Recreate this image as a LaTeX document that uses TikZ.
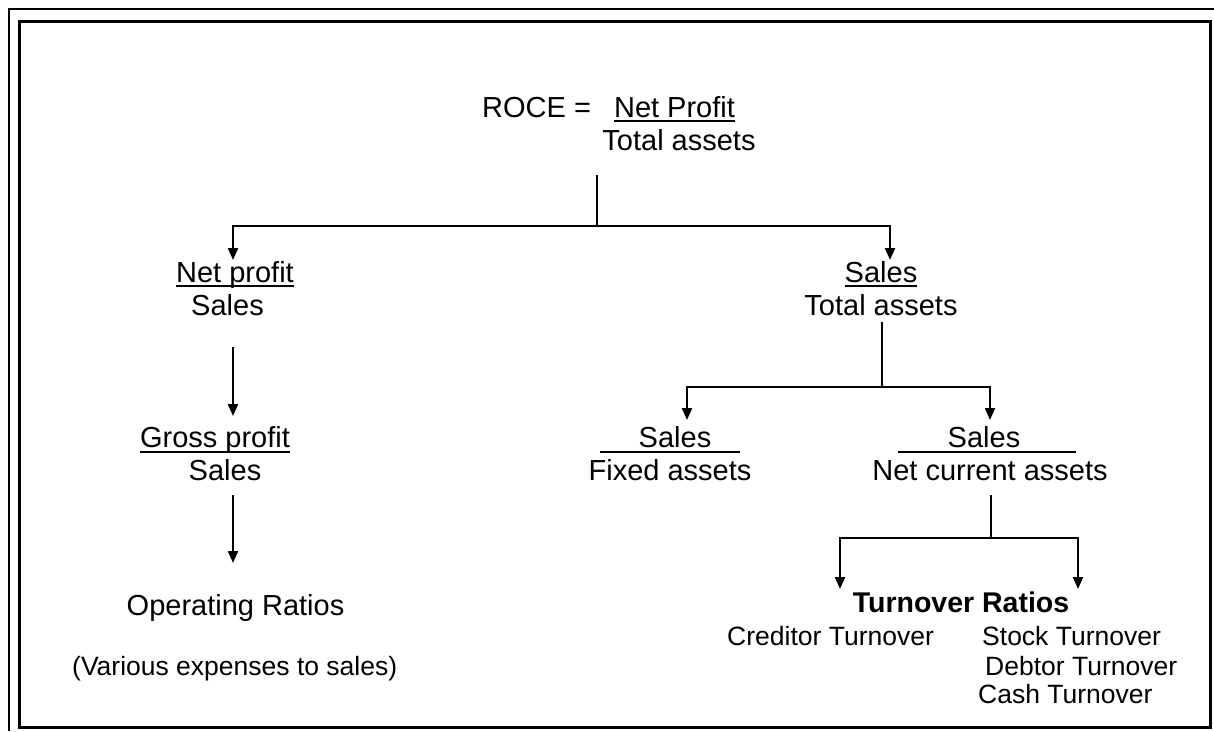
\documentclass[tikz,border=0pt]{standalone}
\usepackage{fontspec}
\setmainfont{Liberation Sans}
\usetikzlibrary{arrows.meta}
\begin{document}
\begin{tikzpicture}[x=1pt,y=-1pt,
  txt/.style={inner sep=0pt, anchor=base, font=\fontsize{29}{35}\selectfont},
  txtw/.style={inner sep=0pt, anchor=base west, font=\fontsize{29}{35}\selectfont},
  sm/.style={inner sep=0pt, anchor=base west, font=\fontsize{26.5}{32}\selectfont},
  bld/.style={inner sep=0pt, anchor=base, font=\fontsize{28.5}{34}\selectfont\bfseries},
  conn/.style={line width=2.2pt, line join=miter},
  arr/.style={line width=2.2pt, -{Triangle[width=10pt,length=12pt]}},
  arrtwo/.style={line width=2.2pt, line join=miter, {Triangle[width=10pt,length=12pt]}-{Triangle[width=10pt,length=12pt]}},
  ul/.style={line width=2.2pt}]
\useasboundingbox (0,0) rectangle (1214,731);
% frames
\draw[line width=2.2pt] (9,731) -- (9,9) -- (1214,9);
\draw[line width=3pt] (19,21) rectangle (1210,727);

% top formula
\node[txtw] (roce) at (482,117) {ROCE =};
\node[txt] (np0) at (674.5,117) {Net Profit};
\draw[ul] ([yshift=-4pt]np0.base west) -- ([yshift=-4pt]np0.base east);
\node[txt] (ta0) at (679,150) {Total assets};

\coordinate (top1) at (597,175);
\coordinate (j1) at (597,226);
\coordinate (j1l) at (233,226);
\coordinate (j1r) at (890,226);
\coordinate (t1l) at (233,260);
\coordinate (t1r) at (890,260);
\draw[conn] (top1) -- (j1);
\draw[arrtwo] (t1l) -- (j1l) -- (j1r) -- (t1r);

% left branch
\node[txt] (npl) at (235,282) {Net profit};
\draw[ul] ([yshift=-4pt]npl.base west) -- ([yshift=-4pt]npl.base east);
\node[txt] (sl1) at (227.5,315) {Sales};
\coordinate (a2s) at (233,347);
\coordinate (a2e) at (233,416);
\draw[arr] (a2s) -- (a2e);
\node[txt] (gp) at (215,447) {Gross profit};
\draw[ul] ([yshift=-5pt]gp.base west) -- ([yshift=-5pt]gp.base east);
\node[txt] (sl2) at (225,480) {Sales};
\coordinate (a3s) at (233,495);
\coordinate (a3e) at (233,563);
\draw[arr] (a3s) -- (a3e);
\node[txt] (op) at (235.5,615) {Operating Ratios};
\node[sm] (var) at (72,675) {(Various expenses to sales)};

% right branch
\node[txt] (sr) at (881,282) {Sales};
\draw[ul] ([yshift=-4pt]sr.base west) -- ([yshift=-4pt]sr.base east);
\node[txt] (tar) at (881,315) {Total assets};
\coordinate (top2) at (882,322);
\coordinate (j2) at (882,387);
\coordinate (j2l) at (687,387);
\coordinate (j2r) at (990,387);
\coordinate (t2l) at (687,420);
\coordinate (t2r) at (990,420);
\draw[conn] (top2) -- (j2);
\draw[arrtwo] (t2l) -- (j2l) -- (j2r) -- (t2r);

\node[txt] (sf) at (675,447) {Sales};
\coordinate (ulfa) at (600,452);
\coordinate (ulfb) at (740,452);
\draw[ul] (ulfa) -- (ulfb);
\node[txt] (fa) at (670,480) {Fixed assets};

\node[txt] (sn) at (984,447) {Sales};
\coordinate (ulna) at (898,452);
\coordinate (ulnb) at (1076,452);
\draw[ul] (ulna) -- (ulnb);
\node[txt] (nca) at (990,480) {Net current assets};

\coordinate (top3) at (991,495);
\coordinate (j3) at (991,538);
\coordinate (j3l) at (840,538);
\coordinate (j3r) at (1078,538);
\coordinate (t3l) at (840,589);
\coordinate (t3r) at (1078,589);
\draw[conn] (top3) -- (j3);
\draw[arrtwo] (t3l) -- (j3l) -- (j3r) -- (t3r);

\node[bld] (tr) at (961,612) {Turnover Ratios};
\node[sm] (ct) at (727,645) {Creditor Turnover};
\node[sm] (st) at (982,645) {Stock Turnover};
\node[sm] (dt) at (985,675) {Debtor Turnover};
\node[sm] (cash) at (978,703) {Cash Turnover};
\end{tikzpicture}
\end{document}
